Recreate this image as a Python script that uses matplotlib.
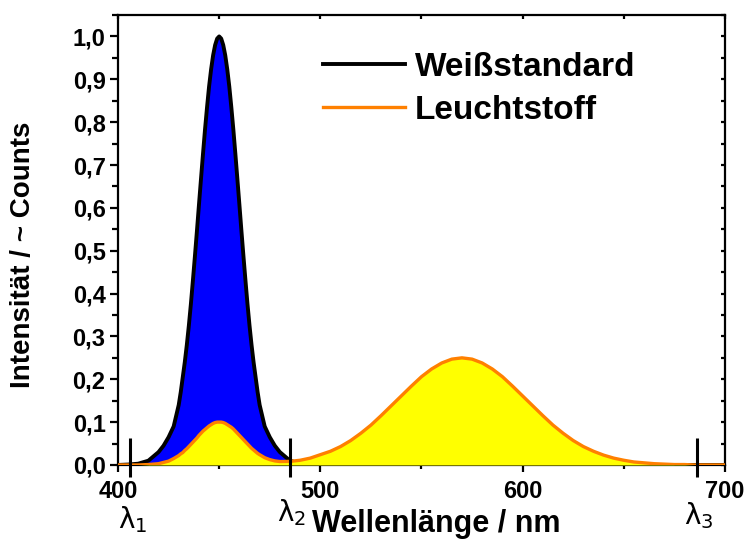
import matplotlib
matplotlib.use("Agg")
import matplotlib.pyplot as plt
from matplotlib.ticker import MultipleLocator

plt.rcParams['font.family'] = ['Liberation Sans', 'DejaVu Sans']

# wavelengths (nm), finer steps around the blue peak
wavelength = [400, 405, 410, 415, 420, 422.5, 425, 427.5,
              430, 431, 432, 433, 434, 435, 436, 437, 438, 439,
              440, 441, 442, 443, 444, 445, 446, 447, 448, 449,
              450, 451, 452, 453, 454, 455, 456, 457, 458, 459,
              460, 461, 462, 463, 464, 465, 466, 467, 468, 469, 470,
              472.5, 475, 477.5, 480, 485, 490, 495, 500, 505, 510,
              515, 520, 525, 530, 535, 540, 545, 550, 555, 560, 565, 570, 575,
              580, 585, 590, 595, 600, 605, 610, 615, 620, 625, 630, 635, 640,
              645, 650, 655, 660, 665, 670, 675, 680, 685, 690, 695, 700]

# Weißstandard (white standard)
weiss = [0.000, 0.001, 0.003, 0.010, 0.030, 0.045, 0.065, 0.090,
         0.140, 0.170, 0.205, 0.240, 0.280, 0.325, 0.375, 0.430, 0.487, 0.546,
         0.607, 0.667, 0.726, 0.783, 0.835, 0.883, 0.923, 0.956, 0.980, 0.995,
         1.000, 0.995, 0.980, 0.956, 0.923, 0.883, 0.835, 0.783, 0.726, 0.667,
         0.607, 0.546, 0.487, 0.430, 0.375, 0.325, 0.280, 0.240, 0.205, 0.170, 0.140,
         0.090, 0.065, 0.045, 0.030, 0.010, 0.003, 0.001, 0.000, 0.000, 0.000,
         0.000, 0.000, 0.000, 0.000, 0.000, 0.000, 0.000, 0.000, 0.000, 0.000, 0.000, 0.000, 0.000,
         0.000, 0.000, 0.000, 0.000, 0.000, 0.000, 0.000, 0.000, 0.000, 0.000, 0.000, 0.000, 0.000,
         0.000, 0.000, 0.000, 0.000, 0.000, 0.000, 0.000, 0.000, 0.000, 0.000, 0.000, 0.000]

# Leuchtstoff (phosphor)
leucht = [0.000, 0.000, 0.000, 0.001, 0.003, 0.006, 0.009, 0.015,
          0.022, 0.026, 0.029, 0.034, 0.038, 0.043, 0.048, 0.053, 0.058, 0.063,
          0.069, 0.074, 0.079, 0.083, 0.087, 0.091, 0.094, 0.097, 0.099, 0.100,
          0.100, 0.100, 0.099, 0.097, 0.094, 0.091, 0.088, 0.084, 0.079, 0.074,
          0.069, 0.064, 0.059, 0.054, 0.049, 0.044, 0.039, 0.035, 0.031, 0.027, 0.024,
          0.017, 0.0125, 0.0095, 0.008, 0.0084, 0.011, 0.016, 0.024, 0.032, 0.043,
          0.057, 0.074, 0.093, 0.115, 0.138, 0.161, 0.184, 0.206, 0.224, 0.238, 0.247, 0.250, 0.247,
          0.238, 0.224, 0.206, 0.184, 0.161, 0.138, 0.115, 0.093, 0.074, 0.057, 0.043, 0.032, 0.023,
          0.016, 0.011, 0.007, 0.005, 0.003, 0.002, 0.001, 0.001, 0.000, 0.000, 0.000, 0.000]

lambda_pos = [406, 485, 686]
lambda_names = [r'$\mathrm{\lambda}_1$', r'$\mathrm{\lambda}_2$', r'$\mathrm{\lambda}_3$']
lambda_label_dy = [-0.128, -0.112, -0.118]

y_ticks = [0.0, 0.1, 0.2, 0.3, 0.4, 0.5, 0.6, 0.7, 0.8, 0.9, 1.0]
y_ticklabels = ['0,0', '0,1', '0,2', '0,3', '0,4', '0,5', '0,6', '0,7', '0,8', '0,9', '1,0']
x_ticks = [400, 500, 600, 700]

fig = plt.figure(figsize=(7.47, 5.46), dpi=100)
ax = fig.add_axes([0.158, 0.1484, 0.8125, 0.8241])

ax.fill_between(wavelength, weiss, 0, color='#0000ff', lw=0, zorder=1)
ax.plot(wavelength, weiss, color='black', lw=2.8, zorder=2, label='Weißstandard',
        solid_joinstyle='round')
ax.fill_between(wavelength, leucht, 0, color='#ffff00', lw=0, zorder=3)
ax.plot(wavelength, leucht, color='#ff8000', lw=2.4, zorder=4, label='Leuchtstoff',
        solid_joinstyle='round')

for xp, name, dy in zip(lambda_pos, lambda_names, lambda_label_dy):
    ax.plot([xp, xp], [-0.028, 0.062], color='black', lw=2.2, clip_on=False, zorder=5,
            solid_capstyle='butt')
    ax.text(xp + 1, dy, name, ha='center', va='center', fontsize=20, clip_on=False)

ax.set_xlim(400, 700)
ax.set_ylim(0, 1.05)
ax.set_xticks(x_ticks)
ax.xaxis.set_minor_locator(MultipleLocator(50))
ax.set_yticks(y_ticks)
ax.set_yticklabels(y_ticklabels)
ax.yaxis.set_minor_locator(MultipleLocator(0.05))

for s in ax.spines.values():
    s.set_linewidth(1.6)
ax.tick_params(which='both', top=True, right=True, width=1.6, labelsize=17)
ax.tick_params(axis='x', which='major', direction='out', length=5, pad=6)
ax.tick_params(axis='x', which='minor', direction='out', length=3)
ax.tick_params(axis='y', which='major', direction='out', length=6, pad=3)
ax.tick_params(axis='y', which='minor', direction='out', length=4)
for lab in ax.get_xticklabels() + ax.get_yticklabels():
    lab.set_fontweight('bold')
# top/right ticks drawn inward and short
for t in ax.xaxis.get_major_ticks() + ax.xaxis.get_minor_ticks():
    t.tick2line.set_marker(3)
    t.tick2line.set_markersize(3)
for t in ax.yaxis.get_major_ticks() + ax.yaxis.get_minor_ticks():
    t.tick2line.set_marker(0)
    t.tick2line.set_markersize(3)

ax.set_xlabel('Wellenlänge / nm', fontsize=22, fontweight='bold')
ax.xaxis.set_label_coords(0.524, -0.098)
ax.set_ylabel('Intensität / ~ Counts', fontsize=20, fontweight='bold')
ax.yaxis.set_label_coords(-0.135, 0.467)

ax.legend(loc='upper left', bbox_to_anchor=(0.4324, 0.905), bbox_transform=fig.transFigure,
          frameon=False, prop={'size': 24, 'weight': 'bold'}, handlelength=2.45,
          handletextpad=0.3, labelspacing=0.36, borderpad=0, borderaxespad=0)

fig.savefig('out.png', dpi=100)
